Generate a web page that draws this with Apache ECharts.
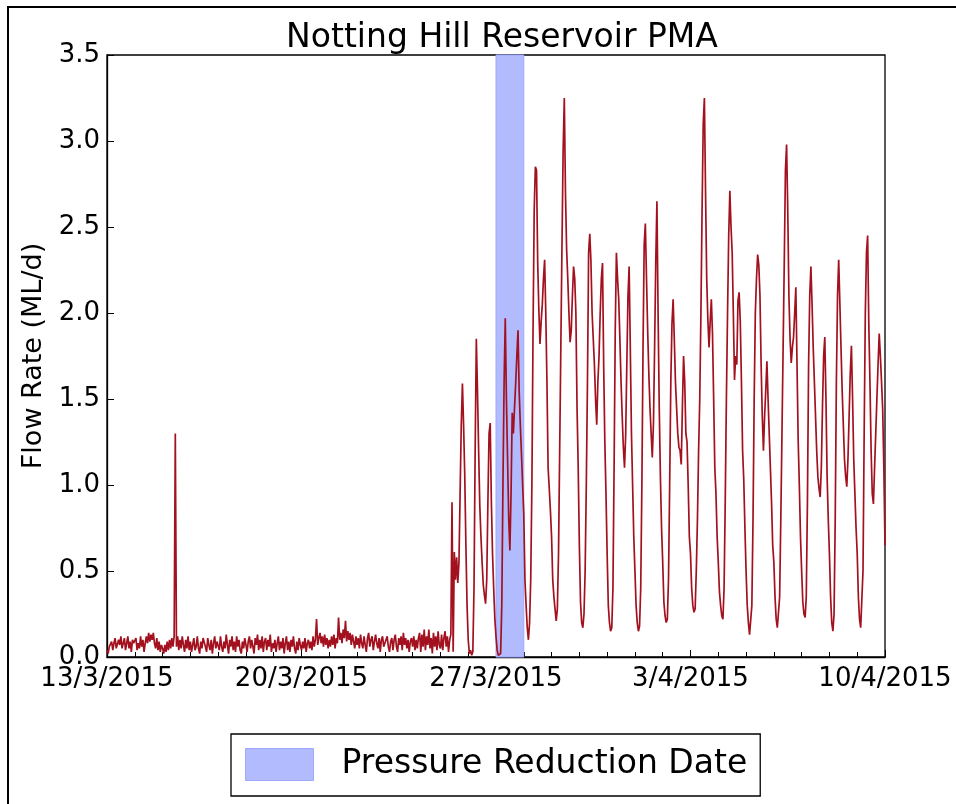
<!DOCTYPE html>
<html>
<head>
<meta charset="utf-8">
<title>Notting Hill Reservoir PMA</title>
<script src="https://cdn.jsdelivr.net/npm/echarts@6.0.0/dist/echarts.min.js"></script>
<style>
  html, body { margin: 0; padding: 0; background: #fff; }
  #main { width: 956px; height: 804px; }
</style>
</head>
<body>
<div id="main"></div>
<script>
// hourly flow (ML/d), one row per day, starting 13/3/2015 00:00
var flowWeek1 = [
  [0.04,0.02,0.06,0.05,0.09,0.04,0.08,0.11,0.05,0.06,0.10,0.07,0.12,0.05,0.06,0.11,0.04,0.08,0.12,0.05,0.09,0.03,0.10,0.08],
  [0.07,0.11,0.04,0.08,0.05,0.12,0.06,0.10,0.03,0.08,0.12,0.08,0.14,0.09,0.13,0.10,0.14,0.08,0.05,0.11,0.04,0.09,0.03,0.07],
  [0.05,0.02,0.07,0.03,0.09,0.04,0.10,0.05,0.11,0.06,0.12,1.30,0.06,0.12,0.04,0.10,0.05,0.12,0.07,0.03,0.10,0.05,0.12,0.04],
  [0.09,0.03,0.07,0.11,0.04,0.06,0.12,0.05,0.02,0.09,0.05,0.11,0.12,0.06,0.03,0.11,0.07,0.04,0.10,0.02,0.08,0.12,0.05,0.09],
  [0.10,0.04,0.12,0.06,0.03,0.09,0.05,0.13,0.07,0.02,0.10,0.06,0.12,0.04,0.09,0.03,0.12,0.06,0.10,0.04,0.02,0.09,0.05,0.11],
  [0.07,0.03,0.09,0.12,0.05,0.10,0.06,0.02,0.11,0.07,0.13,0.04,0.10,0.05,0.12,0.03,0.09,0.11,0.04,0.10,0.06,0.13,0.03,0.08],
  [0.05,0.10,0.03,0.08,0.12,0.04,0.09,0.05,0.11,0.02,0.08,0.12,0.04,0.09,0.03,0.10,0.06,0.12,0.05,0.02,0.09,0.04,0.11,0.07]
];
var flowWeek2 = [
  [0.04,0.09,0.05,0.11,0.03,0.08,0.10,0.05,0.09,0.04,0.12,0.06,0.10,0.22,0.07,0.11,0.14,0.08,0.12,0.06,0.13,0.07,0.11,0.05],
  [0.10,0.06,0.12,0.07,0.13,0.05,0.11,0.08,0.23,0.10,0.14,0.08,0.16,0.11,0.21,0.09,0.15,0.10,0.14,0.07,0.13,0.09,0.05,0.12],
  [0.07,0.11,0.05,0.13,0.08,0.05,0.12,0.07,0.03,0.11,0.14,0.06,0.10,0.12,0.04,0.09,0.13,0.08,0.05,0.11,0.03,0.10,0.12,0.06],
  [0.05,0.10,0.12,0.06,0.03,0.09,0.11,0.04,0.10,0.13,0.06,0.03,0.11,0.07,0.12,0.04,0.14,0.07,0.11,0.05,0.10,0.03,0.09,0.11],
  [0.06,0.12,0.04,0.10,0.05,0.11,0.14,0.03,0.13,0.06,0.16,0.04,0.12,0.07,0.16,0.05,0.11,0.02,0.14,0.06,0.12,0.04,0.15,0.07],
  [0.05,0.13,0.04,0.11,0.15,0.06,0.12,0.03,0.10,0.13,0.90,0.03,0.61,0.45,0.58,0.43,0.55,0.95,1.35,1.59,1.35,1.06,0.65,0.30],
  [0.10,0.02,0.04,0.01,0.03,0.40,1.20,1.85,1.55,1.20,0.88,0.70,0.55,0.42,0.36,0.31,0.45,0.90,1.30,1.36,0.90,0.60,0.40,0.22]
];
var flowWeek3 = [
  [0.12,0.04,0.01,0.02,0.02,0.30,1.00,1.60,1.97,1.50,1.15,0.80,0.62,0.95,1.42,1.30,1.45,1.59,1.75,1.90,1.55,1.35,1.18,1.00],
  [0.83,0.45,0.30,0.17,0.10,0.20,0.45,1.00,1.90,2.60,2.85,2.83,2.30,2.02,1.82,1.95,2.05,2.20,2.31,2.00,1.60,1.10,0.98,0.85],
  [0.70,0.45,0.35,0.28,0.21,0.28,0.60,1.20,1.80,2.40,2.95,3.25,2.70,2.37,2.20,2.00,1.83,1.90,2.10,2.27,2.20,2.00,1.45,1.10],
  [0.65,0.32,0.20,0.17,0.25,0.50,1.00,1.60,2.35,2.46,2.30,2.00,1.85,1.70,1.50,1.35,1.60,1.75,2.00,2.20,2.29,1.70,1.25,0.95],
  [0.60,0.30,0.20,0.15,0.17,0.40,1.10,1.90,2.35,2.20,2.08,1.85,1.60,1.40,1.22,1.10,1.29,1.70,2.10,2.27,1.80,1.30,1.00,0.70],
  [0.50,0.30,0.20,0.15,0.18,0.40,1.00,1.80,2.40,2.52,2.20,1.90,1.65,1.45,1.30,1.16,1.36,1.80,2.30,2.65,2.00,1.45,1.05,0.75],
  [0.55,0.32,0.24,0.20,0.22,0.45,1.00,1.60,1.94,2.08,1.85,1.60,1.45,1.30,1.22,1.20,1.12,1.45,1.75,1.60,1.30,1.25,1.00,0.70]
];
var flowWeek4 = [
  [0.60,0.40,0.30,0.26,0.28,0.50,0.80,1.20,1.50,2.00,2.60,3.10,3.25,2.70,2.20,1.96,1.80,1.95,2.08,1.88,1.50,1.10,0.95,0.70],
  [0.55,0.38,0.30,0.24,0.22,0.40,0.90,1.50,2.00,2.45,2.71,2.50,2.35,2.00,1.61,1.75,1.70,2.07,2.12,1.95,1.60,1.20,1.03,0.75],
  [0.50,0.30,0.20,0.13,0.12,0.30,0.80,1.50,2.00,2.20,2.34,2.28,2.10,1.70,1.40,1.20,1.40,1.55,1.72,1.50,1.30,1.10,0.90,0.65],
  [0.55,0.35,0.22,0.17,0.16,0.35,0.80,1.30,1.80,2.30,2.83,2.98,2.60,2.10,1.85,1.71,1.80,1.86,2.00,2.15,1.70,1.26,1.00,0.70],
  [0.50,0.32,0.25,0.23,0.35,0.90,1.70,2.10,2.27,2.05,1.80,1.60,1.40,1.20,1.05,0.98,0.93,1.10,1.45,1.75,1.86,1.50,1.05,0.80],
  [0.60,0.35,0.20,0.15,0.25,0.80,1.60,2.10,2.31,2.06,1.80,1.55,1.35,1.15,1.05,0.99,1.15,1.40,1.65,1.81,1.50,1.15,0.95,0.75],
  [0.60,0.35,0.22,0.17,0.16,0.50,1.30,2.00,2.35,2.45,1.94,1.60,1.20,0.95,0.89,1.10,1.30,1.50,1.70,1.88,1.75,1.60,1.44,1.10]
];
var flowLast = [0.65]; // 10/4/2015 00:00

var dateLabels = ['13/3/2015', '20/3/2015', '27/3/2015', '3/4/2015', '10/4/2015'];
var yTicks = [0, 0.5, 1.0, 1.5, 2.0, 2.5, 3.0, 3.5];
var bandDays = [14, 15]; // 27/3 -> 28/3, days from 13/3

var flow = [].concat(flowWeek1, flowWeek2, flowWeek3, flowWeek4).reduce(function (a, d) { return a.concat(d) }, []).concat(flowLast);
var points = flow.map(function (v, i) { return [i / 24, v] });

var myChart = echarts.init(document.getElementById('main'));
var option = {
    animation: false,
    backgroundColor: '#fff',
    textStyle: { fontFamily: 'DejaVu Sans' },
    title: {
        text: 'Notting Hill Reservoir PMA',
        left: 497,
        top: 17,
        textAlign: 'center',
        textStyle: { fontSize: 33, fontWeight: 'normal', color: '#000', fontFamily: 'DejaVu Sans' }
    },
    graphic: [{
        type: 'rect',
        shape: { x: 8, y: 7, width: 1000, height: 1000 },
        style: { fill: 'none', stroke: '#000', lineWidth: 2 },
        silent: true
    }],
    legend: {
        left: 231,
        top: 734,
        orient: 'horizontal',
        selectedMode: false,
        itemWidth: 68,
        itemHeight: 32,
        padding: [14, 13, 15, 14],
        borderColor: '#000',
        borderWidth: 1.3,
        borderRadius: 0,
        backgroundColor: '#fff',
        data: [{
            name: 'Pressure Reduction Date',
            icon: 'rect',
            itemStyle: { color: '#b3bbff', borderColor: '#9ea8ff', borderWidth: 1 }
        }],
        textStyle: { fontSize: 33, color: '#000', fontFamily: 'DejaVu Sans', padding: [0, 0, 0, 23] }
    },
    grid: { left: 107, top: 55, right: 71, bottom: 147, show: true, borderColor: '#000', borderWidth: 1.3, containLabel: false },
    xAxis: {
        type: 'value',
        min: 0,
        max: 28,
        interval: 7,
        axisLine: { show: true, lineStyle: { color: '#000', width: 1.3 } },
        axisTick: { show: true, inside: true, length: 7, lineStyle: { color: '#000' } },
        minorTick: { show: true, splitNumber: 7, length: 5, lineStyle: { color: '#000' } },
        splitLine: { show: false },
        axisLabel: {
            fontSize: 26, color: '#000', margin: 9, fontFamily: 'DejaVu Sans',
            formatter: function (v) { return dateLabels[Math.round(v / 7)] }
        }
    },
    yAxis: {
        type: 'value',
        min: yTicks[0],
        max: yTicks[yTicks.length - 1],
        interval: 0.5,
        name: 'Flow Rate (ML/d)',
        nameLocation: 'middle',
        nameGap: 57,
        nameTextStyle: { fontSize: 27, color: '#000', fontFamily: 'DejaVu Sans' },
        axisLine: { show: true, lineStyle: { color: '#000', width: 1.3 } },
        axisTick: { show: true, inside: true, length: 7, lineStyle: { color: '#000' } },
        splitLine: { show: false },
        axisLabel: {
            fontSize: 26, color: '#000', margin: 7, fontFamily: 'DejaVu Sans',
            formatter: function (v) { return v.toFixed(1) }
        }
    },
    series: [
        {
            name: 'Pressure Reduction Date',
            type: 'line',
            data: [],
            z: 1,
            color: '#b3bbff',
            markArea: {
                silent: true,
                itemStyle: { color: '#b3bbff', borderColor: '#9ea8ff', borderWidth: 1 },
                data: [[{ xAxis: bandDays[0] }, { xAxis: bandDays[1] }]]
            }
        },
        {
            name: 'Flow',
            type: 'line',
            z: 3,
            data: points,
            showSymbol: false,
            symbol: 'none',
            lineStyle: { color: '#a3111f', width: 1.7 },
            itemStyle: { color: '#a3111f' }
        }
    ]
};
myChart.setOption(option);
</script>
</body>
</html>
